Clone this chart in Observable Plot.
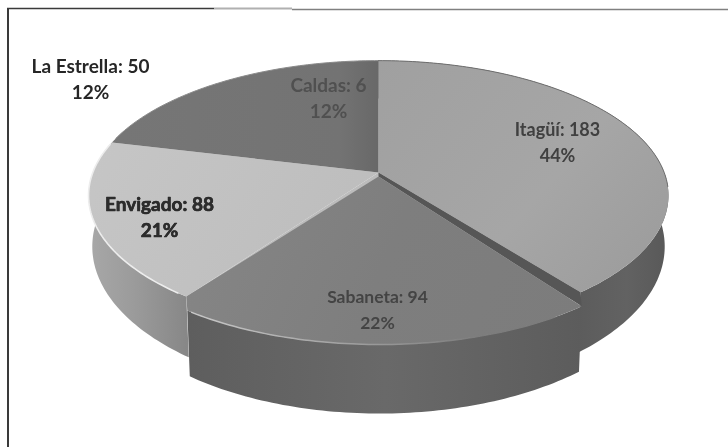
<!DOCTYPE html>
<html>
<head>
<meta charset="utf-8">
<style>
html,body{margin:0;padding:0;background:#fff;}
#chart{width:728px;height:447px;overflow:hidden;}
#chart svg{display:block;filter:blur(0.7px);}
</style>
<script src="https://cdn.jsdelivr.net/npm/d3@7"></script>
<script src="https://cdn.jsdelivr.net/npm/@observablehq/plot@0.6"></script>
</head>
<body>
<div id="chart"></div>
<script>
// Values as printed on the chart
const municipios = ["Itagüí", "Sabaneta", "Envigado", "La Estrella", "Caldas"];
const printedValues = [183, 94, 88, 50, 6];
const printedPercents = [44, 22, 21, 12, 12];
// Share of the circle each slice takes in the picture (Caldas is drawn far wider than its printed 6)
const drawnWeights = [183, 94, 88, 50, 48];

const W = 728, H = 447;
const total = d3.sum(drawnWeights);
let acc = 0;
const slices = municipios.map((name, i) => {
  const a0 = acc / total * 360; acc += drawnWeights[i];
  return {name, a0, a1: acc / total * 360};
});
const byName = Object.fromEntries(slices.map(s => [s.name, s]));

// Perspective view of the disc: top and bottom circles
const persp = 0.171, cx = 378;
const topDisc = {cy: 172, rx: 285.7, ry: 131};
const botDisc = {cy: 220.7, rx: 282, ry: 143.7};
function project(deg, disc, dx = 0, dy = 0) {
  const t = deg * Math.PI / 180, u = Math.sin(t), v = Math.cos(t), D = 1 + persp * v;
  return {x: cx + disc.rx * u / D + dx, y: disc.cy - disc.ry * v / D + dy};
}
function arc(a0, a1, disc, dx = 0, dy = 0) {
  const n = Math.max(2, Math.ceil(Math.abs(a1 - a0))), pts = [];
  for (let i = 0; i <= n; i++) pts.push(project(a0 + (a1 - a0) * i / n, disc, dx, dy));
  return pts;
}
const apex = {x: cx, y: topDisc.cy};
const wedge = s => [apex, ...arc(s.a0, s.a1, topDisc)];
const wall = (s, dt = {}, db = {}) => [
  ...arc(s.a0, s.a1, topDisc, dt.dx, dt.dy),
  ...arc(s.a1, s.a0, botDisc, db.dx, db.dy)
];
const shape = (pts, fill, extra = {}) =>
  Plot.line(pts, {x: "x", y: "y", fill, stroke: "none", curve: "linear", ...extra});

const topShift = {dx: 1, dy: 14}, botShift = {dx: 1, dy: 19};
const sab = byName["Sabaneta"], ita = byName["Itagüí"], env = byName["Envigado"];
const est = byName["La Estrella"], cal = byName["Caldas"];
const darkSlice = {a0: est.a0, a1: cal.a1};
const sabTop = [
  {x: cx, y: topDisc.cy + 4},
  ...arc(sab.a0, sab.a1, topDisc, topShift.dx, topShift.dy),
  project(sab.a1, topDisc)
];
const band = [apex, project(ita.a1, topDisc), project(sab.a0, topDisc, 1, 14), {x: cx, y: topDisc.cy + 4}];

// Labels: anchor, type size and ink of each two-line label
const labelAnchors = {
  "Itagüí": [557, 130, 18, "#404040"],
  "Sabaneta": [377, 297, 17.5, "#444444"],
  "Envigado": [159, 204, 19, "#2c2c2c"],
  "La Estrella": [90, 66, 19, "#262626"],
  "Caldas": [328, 85, 19, "#505050"]
};
const labels = municipios.map((name, i) => ({
  name,
  line1: `${name}: ${printedValues[i]}`,
  line2: `${printedPercents[i]}%`,
  x: labelAnchors[name][0], y: labelAnchors[name][1], size: labelAnchors[name][2], color: labelAnchors[name][3]
}));
const labelFont = {fontFamily: "Lato, 'Open Sans', sans-serif", fontSize: "size", fontWeight: 700, textAnchor: "middle"};

const plot = Plot.plot({
  width: W, height: H, margin: 0,
  style: {background: "#fff", overflow: "hidden"},
  x: {domain: [0, W], range: [0, W], axis: null},
  y: {domain: [0, H], range: [0, H], axis: null},
  marks: [
    // Scanned frame
    Plot.ruleX([7.5], {y1: 8, y2: H, stroke: "#3a3a3a", strokeWidth: 2}),
    Plot.ruleY([8], {x1: 7, x2: 214, stroke: "#3a3a3a", strokeWidth: 1.4}),
    Plot.ruleY([8], {x1: 214, x2: 292, stroke: "#b0b0b0", strokeWidth: 2}),
    Plot.ruleY([9], {x1: 292, x2: W, stroke: "#808080", strokeWidth: 1.4}),
    // Main body: walls
    shape(wall(ita), "url(#wallIta)"),
    shape(wall(env), "url(#wallEnv)"),
    // Main body: top faces
    shape(wedge(sab), "#bcbcbc"),
    shape(wedge(ita), "url(#topIta)"),
    shape(wedge(env), "url(#topEnv)"),
    shape(wedge(darkSlice), "url(#topCal)"),
    // Rims
    Plot.line(arc(est.a0 + 2, 360, topDisc), {x: "x", y: "y", stroke: "#8a8a8a", strokeWidth: 1}),
    Plot.line(arc(0, 96, topDisc), {x: "x", y: "y", stroke: "#6e6e6e", strokeWidth: 1}),
    Plot.line(arc(env.a0 + 2, env.a1 - 1, topDisc), {x: "x", y: "y", stroke: "#ededed", strokeWidth: 1.6}),
    // Exploded slice
    shape(band, "#565656"),
    shape(wall(sab, topShift, botShift), "url(#wallSab)"),
    shape(sabTop, "url(#topSab)"),
    Plot.line(arc(sab.a1 - 1, sab.a0 + 6, topDisc, topShift.dx, topShift.dy), {x: "x", y: "y", stroke: "url(#hiSab)", strokeWidth: 1.5}),
    // Labels
    Plot.text(labels, {x: "x", y: "y", text: "line1", fill: "color", ...labelFont}),
    Plot.text(labels, {x: "x", y: d => d.y + 26, text: "line2", fill: "color", ...labelFont}),
    Plot.text(labels.filter(d => d.name === "Envigado"), {x: "x", y: "y", text: "line1", fill: "color", stroke: "color", strokeWidth: 0.6, ...labelFont}),
    Plot.text(labels.filter(d => d.name === "Envigado"), {x: "x", y: d => d.y + 26, text: "line2", fill: "color", stroke: "color", strokeWidth: 0.6, ...labelFont})
  ]
});

// Shading for faces
const gradients = [
  ["wallIta", 560, 0, 670, 0, [[0, "#5a5a5a"], [0.6, "#626262"], [1, "#585858"]]],
  ["wallEnv", 88, 0, 195, 0, [[0, "#a8a8a8"], [0.45, "#9a9a9a"], [1, "#848484"]]],
  ["wallSab", 188, 0, 582, 0, [[0, "#5e5e5e"], [0.5, "#696969"], [1, "#5c5c5c"]]],
  ["topIta", 378, 60, 640, 290, [[0, "#a0a0a0"], [0.6, "#a6a6a6"], [1, "#9c9c9c"]]],
  ["topEnv", 88, 140, 360, 300, [[0, "#c6c6c6"], [1, "#bcbcbc"]]],
  ["topCal", 120, 130, 378, 130, [[0, "#767676"], [0.85, "#737373"], [1, "#686868"]]],
  ["topSab", 190, 180, 580, 340, [[0, "#868686"], [0.5, "#7e7e7e"], [1, "#7c7c7c"]]],
  ["hiSab", 188, 0, 480, 0, [[0, "#c8c8c8"], [0.5, "#a4a4a4"], [1, "#7c7c7c"]]]
];
const defs = d3.select(plot).insert("defs", ":first-child");
for (const [id, x1, y1, x2, y2, stops] of gradients) {
  const g = defs.append("linearGradient").attr("id", id).attr("gradientUnits", "userSpaceOnUse")
    .attr("x1", x1).attr("y1", y1).attr("x2", x2).attr("y2", y2);
  for (const [o, c] of stops) g.append("stop").attr("offset", o).attr("stop-color", c);
}
document.getElementById("chart").append(plot);
</script>
</body>
</html>
